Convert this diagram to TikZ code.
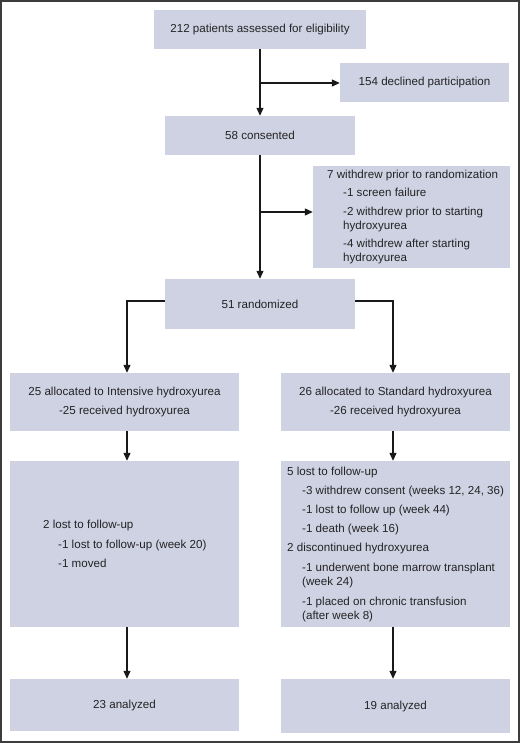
\documentclass[tikz,border=0pt]{standalone}
\usepackage{fontspec}
\setmainfont{Liberation Sans}
\usetikzlibrary{arrows.meta}
\definecolor{boxfill}{RGB}{207,210,227}
\definecolor{linec}{RGB}{25,25,25}
\definecolor{textc}{RGB}{35,35,35}
\definecolor{framec}{RGB}{60,60,60}
\begin{document}
\begin{tikzpicture}[x=1bp,y=-1bp,
  box/.style={fill=boxfill, draw=none, inner sep=0pt, text=textc, align=center,
    font=\fontsize{11.6bp}{14bp}\selectfont},
  txt/.style={font=\fontsize{11.6bp}{14bp}\selectfont, text=textc, inner sep=0pt, align=left, anchor=west},
  arr/.style={draw=linec, line width=1.1bp, -{Triangle[length=8bp,width=7bp]}}]
\useasboundingbox (0,0) rectangle (520,743);
\draw[draw=framec, line width=1.6bp] (0.8,0.8) rectangle (519.2,742.2);

% boxes
\node[box, minimum width=212bp, minimum height=39bp] (b1) at (260,29.5) {212 patients assessed for eligibility};
\node[box, minimum width=169bp, minimum height=39bp] (decl) at (424.5,82.5) {154 declined participation};
\node[box, minimum width=190bp, minimum height=39bp] (cons) at (260,135.5) {58 consented};
\node[box, minimum width=197bp, minimum height=102bp] (wd) at (411.5,217) {};
\node[box, minimum width=190bp, minimum height=50bp] (rand) at (260,304) {51 randomized};
\node[box, minimum width=229bp, minimum height=58bp] (intl) at (124.5,402) {25 allocated to Intensive hydroxyurea\\[5bp]-25 received hydroxyurea};
\node[box, minimum width=229bp, minimum height=58bp] (stdr) at (395.5,402) {26 allocated to Standard hydroxyurea\\[5bp]-26 received hydroxyurea};
\node[box, minimum width=229bp, minimum height=166bp] (ml) at (124.5,544) {};
\node[box, minimum width=229bp, minimum height=166bp] (mr) at (395.5,544) {};
\node[box, minimum width=229bp, minimum height=52bp] (al) at (124.5,705) {23 analyzed};
\node[box, minimum width=229bp, minimum height=54bp] (ar) at (395.5,706) {19 analyzed};

% multi-line texts
\node[txt] (wdt) at (327,217) {7 withdrew prior to randomization\\[4.5bp]
\hspace*{16bp}-1 screen failure\\[4.5bp]
\hspace*{16bp}-2 withdrew prior to starting\\
\hspace*{16bp}hydroxyurea\\[4.5bp]
\hspace*{16bp}-4 withdrew after starting\\
\hspace*{16bp}hydroxyurea};
\node[txt] (mlt) at (43,544) {2 lost to follow-up\\[5.5bp]
\hspace*{15bp}-1 lost to follow-up (week 20)\\[5.5bp]
\hspace*{15bp}-1 moved};
\node[txt] (mrt) at (287,544) {5 lost to follow-up\\[5.2bp]
\hspace*{15bp}-3 withdrew consent (weeks 12, 24, 36)\\[5.2bp]
\hspace*{15bp}-1 lost to follow up (week 44)\\[5.2bp]
\hspace*{15bp}-1 death (week 16)\\[5.2bp]
2 discontinued hydroxyurea\\[5.2bp]
\hspace*{15bp}-1 underwent bone marrow transplant\\
\hspace*{15bp}(week 24)\\[6bp]
\hspace*{15bp}-1 placed on chronic transfusion\\
\hspace*{15bp}(after week 8)};

% connectors
\draw[arr] (b1.south) -- (cons.north);
\coordinate (j1) at (260,83);
\draw[arr] (j1) -- (j1 -| decl.west);
\draw[arr] (cons.south) -- (rand.north);
\coordinate (j2) at (260,212);
\draw[arr] (j2) -- (j2 -| wd.west);
\coordinate (rl) at (127,301);
\coordinate (rr) at (393,301);
\draw[arr] (rand.west |- rl) -- (rl) -- (rl |- intl.north);
\draw[arr] (rand.east |- rr) -- (rr) -- (rr |- stdr.north);
\draw[arr] (intl.south -| rl) -- (rl |- ml.north);
\draw[arr] (stdr.south -| rr) -- (rr |- mr.north);
\draw[arr] (ml.south -| rl) -- (rl |- al.north);
\draw[arr] (mr.south -| rr) -- (rr |- ar.north);
\end{tikzpicture}
\end{document}
